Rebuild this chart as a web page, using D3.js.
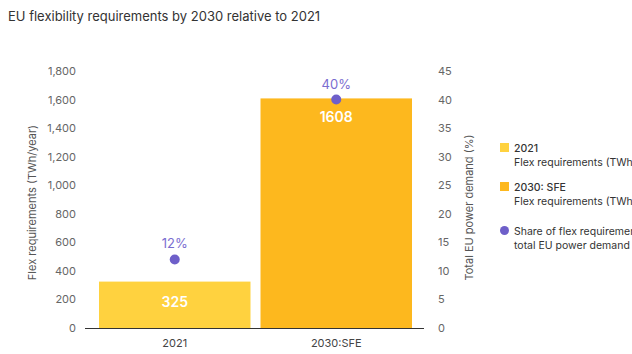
<!DOCTYPE html>
<html>
<head>
<meta charset="utf-8">
<script src="https://cdn.jsdelivr.net/npm/d3@7"></script>
<style>
  html, body { margin: 0; padding: 0; background: #fff; overflow: hidden; }
  svg { display: block; font-family: Inter, "Open Sans", sans-serif; }
</style>
</head>
<body>
<svg id="chart" width="632" height="354"></svg>
<script>
// Flex requirements per scenario and their share of total EU power demand
const categories = ["2021", "2030:SFE"];
const flexTWh = [325, 1608];
const sharePct = [12, 40];
const leftTicks = [0, 200, 400, 600, 800, 1000, 1200, 1400, 1600, 1800];
const rightTicks = [0, 5, 10, 15, 20, 25, 30, 35, 40, 45];
const barColors = ["#FFD23F", "#FDB81E"];
const legendItems = [
  { type: "rect", color: "#FFD23F", lines: ["2021", "Flex requirements (TWh/year)"] },
  { type: "rect", color: "#FDB81E", lines: ["2030: SFE", "Flex requirements (TWh/year)"] },
  { type: "circle", color: "#6E5FC9", lines: ["Share of flex requirements in", "total EU power demand (%)"] }
];

const svg = d3.select("#chart");
const plotTop = 71, plotBottom = 328;

const x = d3.scaleBand().domain(categories).range([99, 412]).paddingInner(0.062).paddingOuter(0);
const yL = d3.scaleLinear().domain([0, 1800]).range([plotBottom, plotTop]);
const yR = d3.scaleLinear().domain([0, 45]).range([plotBottom, plotTop]);

// Title
svg.append("text").attr("x", 8).attr("y", 21)
  .attr("font-size", 13).attr("fill", "#333").text("EU flexibility requirements by 2030 relative to 2021");

// Left axis
const axL = svg.append("g").attr("transform", "translate(80,0)")
  .call(d3.axisLeft(yL).tickValues(leftTicks).tickSize(0).tickPadding(4).tickFormat(d3.format(",")));
axL.select(".domain").remove();
axL.selectAll("text").attr("font-size", 11).attr("fill", "#666").attr("font-family", "Inter, sans-serif");

// Right axis
const axR = svg.append("g").attr("transform", "translate(434,0)")
  .call(d3.axisRight(yR).tickValues(rightTicks).tickSize(0).tickPadding(4));
axR.select(".domain").remove();
axR.selectAll("text").attr("font-size", 11).attr("fill", "#666").attr("font-family", "Inter, sans-serif");

// Axis titles
svg.append("text").attr("transform", `translate(36,${(plotTop + plotBottom) / 2 + 3}) rotate(-90)`)
  .attr("text-anchor", "middle").attr("font-size", 11).attr("fill", "#555")
  .text("Flex requirements (TWh/year)");
svg.append("text").attr("transform", `translate(473,${(plotTop + plotBottom) / 2 + 8}) rotate(-90)`)
  .attr("text-anchor", "middle").attr("font-size", 11).attr("fill", "#555")
  .text("Total EU power demand (%)");

// Bars
svg.selectAll("rect.bar").data(categories).join("rect").attr("class", "bar")
  .attr("x", d => x(d)).attr("width", x.bandwidth())
  .attr("y", (d, i) => yL(flexTWh[i])).attr("height", (d, i) => plotBottom - yL(flexTWh[i]))
  .attr("fill", (d, i) => barColors[i]);

// Bar value labels
svg.selectAll("text.val").data(categories).join("text").attr("class", "val")
  .attr("x", d => x(d) + x.bandwidth() / 2)
  .attr("y", (d, i) => i === 0 ? (yL(flexTWh[i]) + plotBottom) / 2 + 2 : yL(flexTWh[i]) + 24)
  .attr("text-anchor", "middle").attr("font-size", 14).attr("font-weight", 600).attr("fill", "#fff")
  .text((d, i) => flexTWh[i]);

// Baseline
svg.append("line").attr("x1", 85).attr("x2", 424).attr("y1", plotBottom + 0.5).attr("y2", plotBottom + 0.5)
  .attr("stroke", "#333").attr("stroke-width", 1);

// Share dots and labels
svg.selectAll("circle.dot").data(categories).join("circle").attr("class", "dot")
  .attr("cx", d => x(d) + x.bandwidth() / 2).attr("cy", (d, i) => yR(sharePct[i]))
  .attr("r", 5).attr("fill", "#6E5FC9");
svg.selectAll("text.pct").data(categories).join("text").attr("class", "pct")
  .attr("x", d => x(d) + x.bandwidth() / 2).attr("y", (d, i) => yR(sharePct[i]) - 11)
  .attr("text-anchor", "middle").attr("font-size", 13).attr("fill", "#7A6DD0")
  .text((d, i) => sharePct[i] + "%");

// X labels
svg.selectAll("text.cat").data(categories).join("text").attr("class", "cat")
  .attr("x", d => x(d) + x.bandwidth() / 2).attr("y", 347)
  .attr("text-anchor", "middle").attr("font-size", 11).attr("fill", "#444")
  .text(d => d);

// Legend (runs past the right edge of the frame, as in the published layout)
const lg = svg.append("g");
const legendY = [143, 182, 226];
legendItems.forEach((item, i) => {
  const g = lg.append("g").attr("transform", `translate(500,${legendY[i]})`);
  if (item.type === "rect") {
    g.append("rect").attr("x", 0).attr("y", 0).attr("width", 9).attr("height", 9).attr("fill", item.color);
  } else {
    g.append("circle").attr("cx", 4.5).attr("cy", 4.5).attr("r", 4.5).attr("fill", item.color);
  }
  item.lines.forEach((ln, j) => {
    g.append("text").attr("x", 14).attr("y", 9 + j * 14)
      .attr("font-size", 10.5).attr("fill", "#333")
      .attr("font-weight", (item.type === "rect" && j === 0) ? 500 : 400)
      .text(ln);
  });
});
</script>
</body>
</html>
